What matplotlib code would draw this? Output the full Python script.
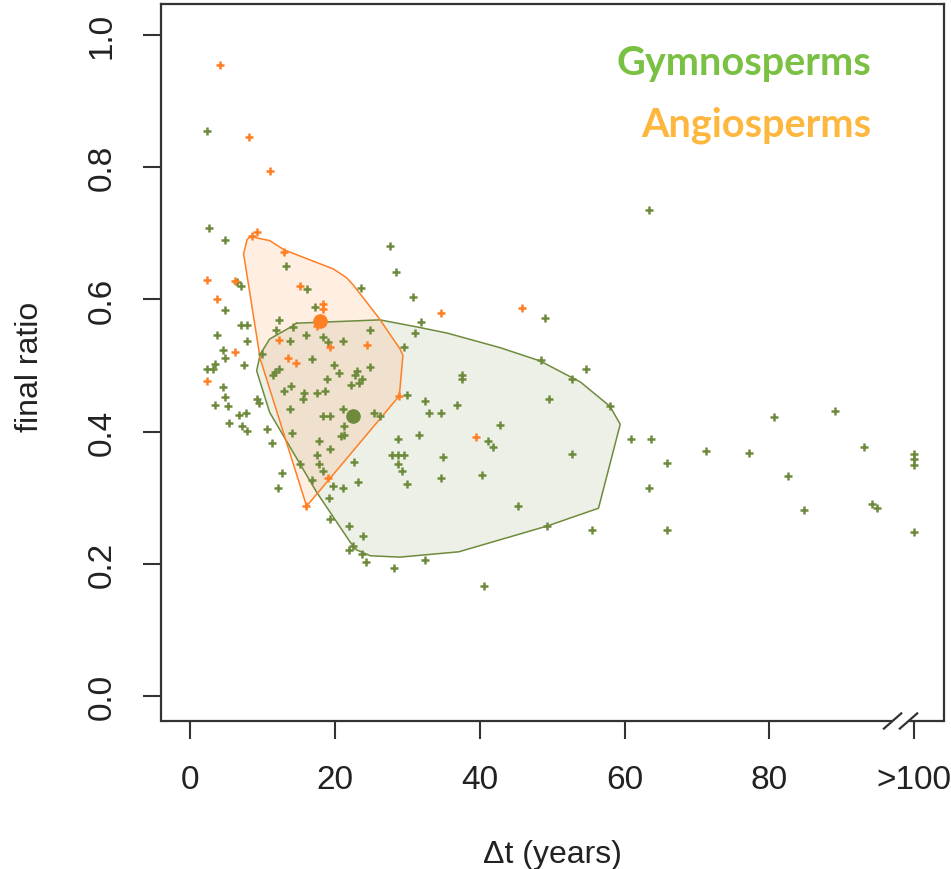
import matplotlib
matplotlib.use("Agg")
import matplotlib.pyplot as plt

plt.rcParams['font.family'] = ['Liberation Sans', 'DejaVu Sans']

# gymnosperm points (dt in years, >100 plotted at 100)
gym_x = [2.3, 2.6, 4.8, 27.6, 28.5, 13.3,
         6.5, 7.1, 16.1, 23.6, 4.8, 17.2, 7.0, 7.9, 12.3, 11.9, 14.2, 24.9, 3.7, 7.9,
         13.8, 16.0, 18.3, 19.1, 21.1, 4.5, 9.9, 4.8, 16.9, 7.4, 3.5, 3.2, 2.3, 12.3,
         11.8, 11.5, 19.9, 24.8, 20.6, 23.0, 22.8, 23.7, 23.4, 18.9, 4.5, 14.0, 13.0,
         22.2, 15.8, 17.5, 18.6, 4.8, 5.2, 3.5, 9.3, 9.5, 15.6, 13.8, 21.1, 18.3, 19.4,
         25.4, 26.2, 6.8, 7.7, 5.4, 7.2, 7.9, 10.7, 21.3, 14.1, 20.9, 21.3, 28.7, 17.8,
         11.3, 19.4, 17.5, 27.9, 28.7, 22.6, 28.7, 15.2, 17.8, 18.4, 12.7, 16.8, 23.2,
         19.7, 21.1, 12.1, 19.2, 19.4, 22.0, 23.9, 22.5, 21.9, 23.7, 24.3, 28.2,
         30.8, 49.0, 31.9, 31.0, 29.6, 48.5, 54.7, 52.8, 58.0, 37.5, 37.5, 49.6, 29.9,
         32.4, 36.9, 33.0, 34.7, 42.8, 31.6, 41.1, 41.8, 29.6, 35.0, 29.3, 29.9, 34.7,
         40.3, 52.7, 45.3, 49.3, 55.5, 32.5, 40.6, 63.4, 60.9, 63.7, 65.9, 63.4, 65.9,
         71.3, 77.2, 80.6, 89.0, 82.6, 84.8, 93.0, 94.1, 94.9, 100, 100, 100, 100]
gym_y = [0.855, 0.708, 0.690, 0.681, 0.642, 0.651,
         0.627, 0.621, 0.615, 0.617, 0.584, 0.588, 0.561, 0.561, 0.569, 0.554, 0.558, 0.554, 0.546, 0.537,
         0.537, 0.546, 0.543, 0.535, 0.537, 0.524, 0.517, 0.512, 0.510, 0.501, 0.502, 0.495, 0.495, 0.495,
         0.490, 0.486, 0.501, 0.497, 0.488, 0.492, 0.485, 0.480, 0.474, 0.480, 0.467, 0.469, 0.462,
         0.471, 0.458, 0.458, 0.462, 0.452, 0.438, 0.440, 0.449, 0.443, 0.449, 0.434, 0.434, 0.423, 0.423,
         0.428, 0.424, 0.425, 0.428, 0.413, 0.409, 0.401, 0.404, 0.409, 0.398, 0.393, 0.395, 0.389, 0.385,
         0.383, 0.374, 0.365, 0.365, 0.365, 0.354, 0.351, 0.351, 0.351, 0.341, 0.338, 0.326, 0.323,
         0.317, 0.314, 0.314, 0.299, 0.267, 0.257, 0.242, 0.227, 0.221, 0.215, 0.202, 0.194,
         0.603, 0.572, 0.566, 0.549, 0.528, 0.509, 0.494, 0.479, 0.438, 0.486, 0.479, 0.449, 0.455,
         0.446, 0.440, 0.428, 0.428, 0.410, 0.395, 0.386, 0.377, 0.365, 0.362, 0.341, 0.320, 0.329,
         0.335, 0.366, 0.287, 0.257, 0.251, 0.206, 0.167, 0.735, 0.389, 0.389, 0.353, 0.314, 0.251,
         0.371, 0.368, 0.422, 0.431, 0.332, 0.281, 0.377, 0.290, 0.284, 0.366, 0.359, 0.350, 0.248]

# angiosperm points
ang_x = [4.2, 8.2, 11.0, 9.3, 8.5, 13.0, 2.3, 6.2, 15.2, 3.7, 18.3, 18.3, 34.7,
         17.5, 12.3, 19.4, 24.5, 6.2, 13.5, 14.6, 2.3, 28.9, 19.1, 16.0, 45.9, 39.5]
ang_y = [0.955, 0.846, 0.795, 0.702, 0.696, 0.672, 0.630, 0.628, 0.621, 0.600, 0.593, 0.585, 0.579,
         0.560, 0.539, 0.528, 0.531, 0.521, 0.512, 0.504, 0.477, 0.454, 0.329, 0.287, 0.587, 0.392]

# hull outlines
gym_hull_x = [14.7, 26.2, 31.5, 35.5, 42.8, 48.3, 53.9, 58.0, 59.4, 56.4, 49.3, 37.1,
              29.0, 24.9, 23.0, 22.1, 17.5, 11.0, 9.2, 9.7, 11.0, 14.2]
gym_hull_y = [0.564, 0.569, 0.558, 0.549, 0.527, 0.507, 0.475, 0.438, 0.411, 0.284, 0.257, 0.218,
              0.210, 0.212, 0.221, 0.233, 0.308, 0.429, 0.492, 0.517, 0.540, 0.560]
ang_hull_x = [8.5, 9.2, 11.0, 13.0, 19.8, 21.6, 22.6, 26.0, 29.0, 29.4, 28.9, 16.1,
              9.7, 8.1, 7.4, 7.9]
ang_hull_y = [0.696, 0.693, 0.689, 0.675, 0.646, 0.633, 0.621, 0.573, 0.525, 0.515, 0.454, 0.287,
              0.510, 0.621, 0.669, 0.691]

# group centres
gym_centre = (22.5, 0.423)
ang_centre = (17.9, 0.567)

xticks = [0, 20, 40, 60, 80, 100]
xticklabels = ['0', '20', '40', '60', '80', '>100']
yticks = [0.0, 0.2, 0.4, 0.6, 0.8, 1.0]

GREEN = '#6E8B3D'
ORANGE = '#FF7F24'
AXC = '#333333'

fig = plt.figure(figsize=(9.51, 8.70), dpi=100)
ax = fig.add_axes([161 / 951, 1 - 722 / 870, (944 - 161) / 951, (722 - 5) / 870])
ax.set_xlim(-4.0, 104.1)
ax.set_ylim(-0.038, 1.047)

ax.fill(gym_hull_x, gym_hull_y, facecolor=GREEN, alpha=0.12, edgecolor='none', zorder=1)
ax.fill(ang_hull_x, ang_hull_y, facecolor=ORANGE, alpha=0.13, edgecolor='none', zorder=1)
ax.plot(gym_hull_x + gym_hull_x[:1], gym_hull_y + gym_hull_y[:1], color=GREEN, lw=1.1, zorder=2)
ax.plot(ang_hull_x + ang_hull_x[:1], ang_hull_y + ang_hull_y[:1], color=ORANGE, lw=1.1, zorder=2)

ax.plot(gym_x, gym_y, '+', color=GREEN, ms=5.5, mew=1.8, zorder=3)
ax.plot(ang_x, ang_y, '+', color=ORANGE, ms=5.5, mew=1.8, zorder=3)
ax.plot(*gym_centre, 'o', color=GREEN, ms=9.5, zorder=4)
ax.plot(*ang_centre, 'o', color=ORANGE, ms=9.5, zorder=4)

# frame with broken bottom axis
for s in ['left', 'top', 'right']:
    ax.spines[s].set_color(AXC)
    ax.spines[s].set_linewidth(1.6)
ax.spines['bottom'].set_visible(False)
x0, x1 = ax.get_xlim()
y0 = ax.get_ylim()[0]
ax.plot([x0, 97.0], [y0, y0], color=AXC, lw=1.6, clip_on=False, solid_capstyle='butt')
ax.plot([99.2, x1], [y0, y0], color=AXC, lw=1.6, clip_on=False, solid_capstyle='butt')
for xc in (97.0, 99.2):
    ax.plot([xc - 1.2, xc + 1.2], [y0 - 0.0115, y0 + 0.0115], color=AXC, lw=1.6, clip_on=False)

ax.set_xticks(xticks)
ax.set_xticklabels(xticklabels)
ax.set_yticks(yticks)
ax.set_yticklabels(['%.1f' % v for v in yticks], rotation=90, va='center')
ax.tick_params(axis='both', direction='out', length=13, width=1.5, color=AXC,
               labelsize=24, pad=18, labelcolor='#222222')

ax.set_xlabel('\u0394t (years)', fontsize=23, color='#222222', va='center')
ax.xaxis.set_label_coords(0.5, (722 - 855) / 717)
ax.set_ylabel('final ratio', fontsize=23, color='#222222', va='center')
ax.yaxis.set_label_coords((30 - 161) / 783, 0.495)

ax.text(0.9068, 0.9024, 'Gymnosperms', transform=ax.transAxes, ha='right', va='baseline',
        fontsize=28.5, fontweight='bold', family=['Lato', 'DejaVu Sans'], color='#7AC143')
ax.text(0.9068, 0.8159, 'Angiosperms', transform=ax.transAxes, ha='right', va='baseline',
        fontsize=28.5, fontweight='bold', family=['Lato', 'DejaVu Sans'], color='#FDB73E')

plt.savefig('out.png', dpi=100)
